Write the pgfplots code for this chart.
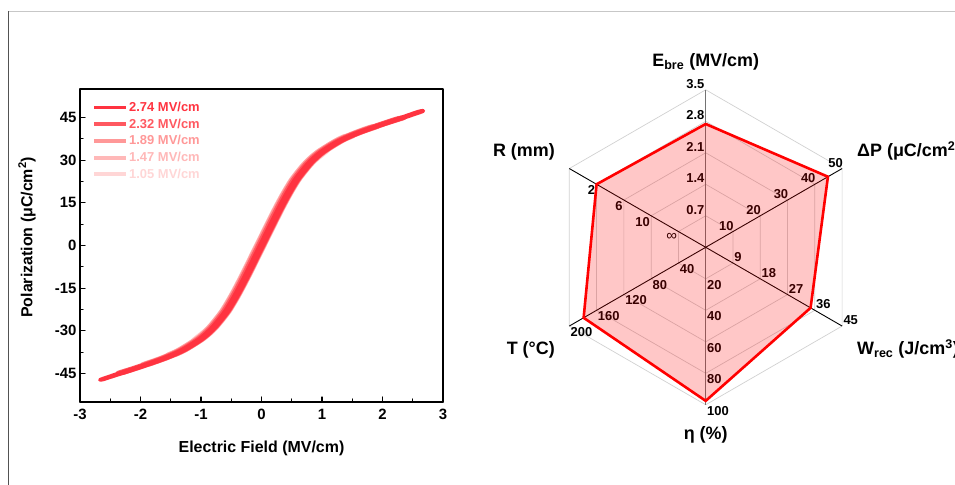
\documentclass[border=0pt]{standalone}
\usepackage{fontspec}
\setmainfont{Liberation Sans}
\usepackage{pgfplots}
\pgfplotsset{compat=1.18}
\usepgfplotslibrary{polar}
\usepackage{pgfplotstable}
\definecolor{cA}{RGB}{255,51,64}
\definecolor{cB}{RGB}{255,88,96}
\definecolor{cC}{RGB}{255,152,152}
\definecolor{cD}{RGB}{255,184,184}
\definecolor{cE}{RGB}{255,214,214}

% radar values: angle, value, axis maximum (R row is its position on the non-linear R scale)
\pgfplotstableread{
ang val max
90 2.74 3.5
30 44.8 50
-30 34.6 45
-90 97.5 100
210 179 200
150 0.8 1
90 2.74 3.5
}\radardata

\tikzset{rl/.style={font=\bfseries\fontsize{13}{13}\selectfont, inner sep=1.2bp}}

\begin{document}
\begin{tikzpicture}[x=1bp,y=1bp]
\useasboundingbox (0,0) rectangle (955,485);
\clip (0,0) rectangle (955,485);
\draw[color=black!22, line width=1.5bp] (8,473.5) -- (955,473.5);
\draw[color=black!68, line width=1.5bp] (8.5,474) -- (8.5,0);

\begin{axis}[
  at={(80bp,83bp)}, anchor=south west, scale only axis,
  width=363bp, height=313bp,
  xmin=-3, xmax=3, ymin=-55, ymax=55,
  xtick={-3,-2,-1,0,1,2,3}, xticklabels={-3,-2,-1,0,1,2,3},
  ytick={-45,-30,-15,0,15,30,45}, yticklabels={-45,-30,-15,0,15,30,45},
  minor x tick num=1, minor y tick num=1,
  tick align=inside, xtick pos=left, ytick pos=left,
  major tick length=5bp, minor tick length=3bp,
  axis line style={line width=1.4bp},
  every tick/.style={line width=1.1bp, black},
  tick label style={font=\bfseries\fontsize{15}{15}\selectfont},
  xticklabel style={yshift=-4bp},
  xlabel={Electric Field (MV/cm)},
  ylabel={Polarization (μC/cm\textsuperscript{2})},
  every axis x label/.style={at={(axis description cs:0.5,-0.149)}, anchor=center,
    font=\bfseries\fontsize{16}{16}\selectfont},
  every axis y label/.style={at={(axis description cs:-0.146,0.526)}, anchor=center, rotate=90,
    font=\bfseries\fontsize{16}{16}\selectfont},
  reverse legend,
  legend cell align=left,
  legend style={at={(axis description cs:0.033,0.962)}, anchor=north west, draw=none, fill=none,
    font=\bfseries\fontsize{13}{13}\selectfont, row sep=3.8bp, inner sep=0pt,
    nodes={inner sep=1bp}},
  legend image code/.code={\draw[#1] (0bp,0bp) -- (32bp,0bp);},
  line cap=round, line join=round,
]
\addplot[cE, line width=4bp, smooth, tension=0.5] coordinates {
(-1.00,-33.5) (-0.75,-29.0) (-0.55,-23.8) (-0.45,-20.5) (-0.35,-16.8) (-0.25,-12.8) (-0.15,-8.6) (-0.05,-4.3) (0.05,0) (0.15,4.3) (0.25,8.6) (0.35,12.8) (0.45,16.8) (0.55,20.5) (0.65,23.8) (0.85,29.0) (1.10,33.5)
(0.96,33.5) (0.71,29.0) (0.51,23.8) (0.41,20.5) (0.31,16.8) (0.21,12.8) (0.11,8.6) (0.01,4.3) (-0.09,0) (-0.19,-4.3) (-0.29,-8.6) (-0.39,-12.8) (-0.49,-16.8) (-0.59,-20.5) (-0.69,-23.8) (-0.89,-29.0) (-1.14,-33.5) (-1.00,-33.5)};
\addlegendentry{\textcolor{cE}{1.05 MV/cm}}
\addplot[cD, line width=4bp, smooth, tension=0.5] coordinates {
(-1.42,-38.5) (-1.25,-36.8) (-0.95,-32.8) (-0.75,-29.0) (-0.55,-23.8) (-0.45,-20.5) (-0.35,-16.8) (-0.25,-12.8) (-0.15,-8.6) (-0.05,-4.3) (0.05,0) (0.15,4.3) (0.25,8.6) (0.35,12.8) (0.45,16.8) (0.55,20.5) (0.65,23.8) (0.85,29.0) (1.05,32.8) (1.35,36.8) (1.52,38.5)
(1.38,38.5) (1.21,36.8) (0.91,32.8) (0.71,29.0) (0.51,23.8) (0.41,20.5) (0.31,16.8) (0.21,12.8) (0.11,8.6) (0.01,4.3) (-0.09,0) (-0.19,-4.3) (-0.29,-8.6) (-0.39,-12.8) (-0.49,-16.8) (-0.59,-20.5) (-0.69,-23.8) (-0.89,-29.0) (-1.09,-32.8) (-1.39,-36.8) (-1.56,-38.5) (-1.42,-38.5)};
\addlegendentry{\textcolor{cD}{1.47 MV/cm}}
\addplot[cC, line width=4bp, smooth, tension=0.5] coordinates {
(-1.85,-41.8) (-1.56,-39.6) (-1.26,-36.8) (-0.96,-32.8) (-0.76,-29.0) (-0.56,-23.8) (-0.46,-20.5) (-0.36,-16.8) (-0.26,-12.8) (-0.16,-8.6) (-0.06,-4.3) (0.04,0) (0.14,4.3) (0.24,8.6) (0.34,12.8) (0.44,16.8) (0.54,20.5) (0.64,23.8) (0.84,29.0) (1.04,32.8) (1.34,36.8) (1.64,39.6) (1.93,41.8)
(1.81,41.8) (1.52,39.6) (1.22,36.8) (0.92,32.8) (0.72,29.0) (0.52,23.8) (0.42,20.5) (0.32,16.8) (0.22,12.8) (0.12,8.6) (0.02,4.3) (-0.08,0) (-0.18,-4.3) (-0.28,-8.6) (-0.38,-12.8) (-0.48,-16.8) (-0.58,-20.5) (-0.68,-23.8) (-0.88,-29.0) (-1.08,-32.8) (-1.38,-36.8) (-1.68,-39.6) (-1.97,-41.8) (-1.85,-41.8)};
\addlegendentry{\textcolor{cC}{1.89 MV/cm}}
\addplot[cB, line width=3.8bp, smooth, tension=0.5] coordinates {
(-2.28,-44.8) (-1.96,-42.6) (-1.56,-39.6) (-1.26,-36.8) (-0.96,-32.8) (-0.76,-29.0) (-0.56,-23.8) (-0.46,-20.5) (-0.36,-16.8) (-0.26,-12.8) (-0.16,-8.6) (-0.06,-4.3) (0.04,0) (0.14,4.3) (0.24,8.6) (0.34,12.8) (0.44,16.8) (0.54,20.5) (0.64,23.8) (0.84,29.0) (1.04,32.8) (1.34,36.8) (1.64,39.6) (2.04,42.6) (2.36,44.8)
(2.26,44.8) (1.94,42.6) (1.54,39.6) (1.24,36.8) (0.94,32.8) (0.74,29.0) (0.54,23.8) (0.44,20.5) (0.34,16.8) (0.24,12.8) (0.14,8.6) (0.04,4.3) (-0.06,0) (-0.16,-4.3) (-0.26,-8.6) (-0.36,-12.8) (-0.46,-16.8) (-0.56,-20.5) (-0.66,-23.8) (-0.86,-29.0) (-1.06,-32.8) (-1.36,-36.8) (-1.66,-39.6) (-2.06,-42.6) (-2.38,-44.8) (-2.28,-44.8)};
\addlegendentry{\textcolor{cB}{2.32 MV/cm}}
\addplot[cA, line width=3.6bp, smooth, tension=0.5] coordinates {
(-2.62,-47.1) (-2.27,-44.7) (-1.97,-42.6) (-1.57,-39.6) (-1.27,-36.8) (-0.97,-32.8) (-0.77,-29.0) (-0.57,-23.8) (-0.47,-20.5) (-0.37,-16.8) (-0.27,-12.8) (-0.17,-8.6) (-0.07,-4.3) (0.03,0) (0.13,4.3) (0.23,8.6) (0.33,12.8) (0.43,16.8) (0.53,20.5) (0.63,23.8) (0.83,29.0) (1.03,32.8) (1.33,36.8) (1.63,39.6) (2.03,42.6) (2.33,44.7) (2.66,47.1)
(2.60,47.1) (2.27,44.7) (1.97,42.6) (1.57,39.6) (1.27,36.8) (0.97,32.8) (0.77,29.0) (0.57,23.8) (0.47,20.5) (0.37,16.8) (0.27,12.8) (0.17,8.6) (0.07,4.3) (-0.03,0) (-0.13,-4.3) (-0.23,-8.6) (-0.33,-12.8) (-0.43,-16.8) (-0.53,-20.5) (-0.63,-23.8) (-0.83,-29.0) (-1.03,-32.8) (-1.33,-36.8) (-1.63,-39.6) (-2.03,-42.6) (-2.33,-44.7) (-2.66,-47.1) (-2.62,-47.1)};
\addlegendentry{\textcolor{cA}{2.74 MV/cm}}
\end{axis}

\begin{polaraxis}[
  at={(705.7bp,237.7bp)}, anchor=origin, scale only axis,
  width=315bp, height=315bp, ymin=0, ymax=1,
  hide axis, clip=false,
]
\addplot[black!18, line width=0.7bp] coordinates {(90,0.2)(30,0.2)(-30,0.2)(-90,0.2)(210,0.2)(150,0.2)(90,0.2)};
\addplot[black!18, line width=0.7bp] coordinates {(90,0.4)(30,0.4)(-30,0.4)(-90,0.4)(210,0.4)(150,0.4)(90,0.4)};
\addplot[black!18, line width=0.7bp] coordinates {(90,0.6)(30,0.6)(-30,0.6)(-90,0.6)(210,0.6)(150,0.6)(90,0.6)};
\addplot[black!18, line width=0.7bp] coordinates {(90,0.8)(30,0.8)(-30,0.8)(-90,0.8)(210,0.8)(150,0.8)(90,0.8)};
\addplot[black!18, line width=0.7bp] coordinates {(90,1)(30,1)(-30,1)(-90,1)(210,1)(150,1)(90,1)};
\addplot[black!55, line width=1.4bp] coordinates {(90,1)(270,1)};
\addplot[black, line width=0.9bp] coordinates {(30,1)(210,1)};
\addplot[black, line width=0.9bp] coordinates {(150,1)(330,1)};
% E_bre
\node[rl, anchor=south east] at (axis cs:90,0.2) {0.7};
\node[rl, anchor=south east] at (axis cs:90,0.4) {1.4};
\node[rl, anchor=south east] at (axis cs:90,0.6) {2.1};
\node[rl, anchor=south east] at (axis cs:90,0.8) {2.8};
\node[rl, anchor=south east] at (axis cs:90,1.0) {3.5};
% Delta P
\node[rl, anchor=south east, xshift=2bp] at (axis cs:30,0.2) {10};
\node[rl, anchor=south east, xshift=2bp] at (axis cs:30,0.4) {20};
\node[rl, anchor=south east, xshift=2bp] at (axis cs:30,0.6) {30};
\node[rl, anchor=south east, xshift=2bp] at (axis cs:30,0.8) {40};
\node[rl, anchor=south east, xshift=2bp] at (axis cs:30,1.0) {50};
% W_rec
\node[rl, anchor=south west] at (axis cs:-30,0.2) {9};
\node[rl, anchor=south west] at (axis cs:-30,0.4) {18};
\node[rl, anchor=south west] at (axis cs:-30,0.6) {27};
\node[rl, anchor=south west] at (axis cs:-30,0.8) {36};
\node[rl, anchor=south west] at (axis cs:-30,1.0) {45};
% eta
\node[rl, anchor=north west] at (axis cs:-90,0.2) {20};
\node[rl, anchor=north west] at (axis cs:-90,0.4) {40};
\node[rl, anchor=north west] at (axis cs:-90,0.6) {60};
\node[rl, anchor=north west] at (axis cs:-90,0.8) {80};
\node[rl, anchor=north west] at (axis cs:-90,1.0) {100};
% T
\node[rl, anchor=north west] at (axis cs:210,0.2) {40};
\node[rl, anchor=north west] at (axis cs:210,0.4) {80};
\node[rl, anchor=north west] at (axis cs:210,0.6) {120};
\node[rl, anchor=north west] at (axis cs:210,0.8) {160};
\node[rl, anchor=north west] at (axis cs:210,1.0) {200};
% R
\node[rl, anchor=north east, font=\fontsize{15}{15}\selectfont] at (axis cs:150,0.2) {∞};
\node[rl, anchor=north east] at (axis cs:150,0.4) {10};
\node[rl, anchor=north east] at (axis cs:150,0.6) {6};
\node[rl, anchor=north east] at (axis cs:150,0.8) {2};
\addplot[draw=none, fill=red, fill opacity=0.22] table[x=ang, y expr=\thisrow{val}/\thisrow{max}] {\radardata};
\addplot[red, line width=2.6bp, line join=miter, line cap=round] table[x=ang, y expr=\thisrow{val}/\thisrow{max}] {\radardata};
\end{polaraxis}

\begin{scope}[every node/.style={font=\bfseries\fontsize{18}{18}\selectfont, inner sep=0pt}]
\node[anchor=base] at (705.7,418.5) {E\textsubscript{bre} (MV/cm)};
\node[anchor=base west] at (857,328.5) {ΔP (μC/cm\textsuperscript{2})};
\node[anchor=base west] at (857,130.2) {W\textsubscript{rec} (J/cm\textsuperscript{3})};
\node[anchor=base] at (705.7,45.2) {η (\%)};
\node[anchor=base east] at (555,130.2) {T (°C)};
\node[anchor=base east] at (555,328.5) {R (mm)};
\end{scope}
\end{tikzpicture}
\end{document}
